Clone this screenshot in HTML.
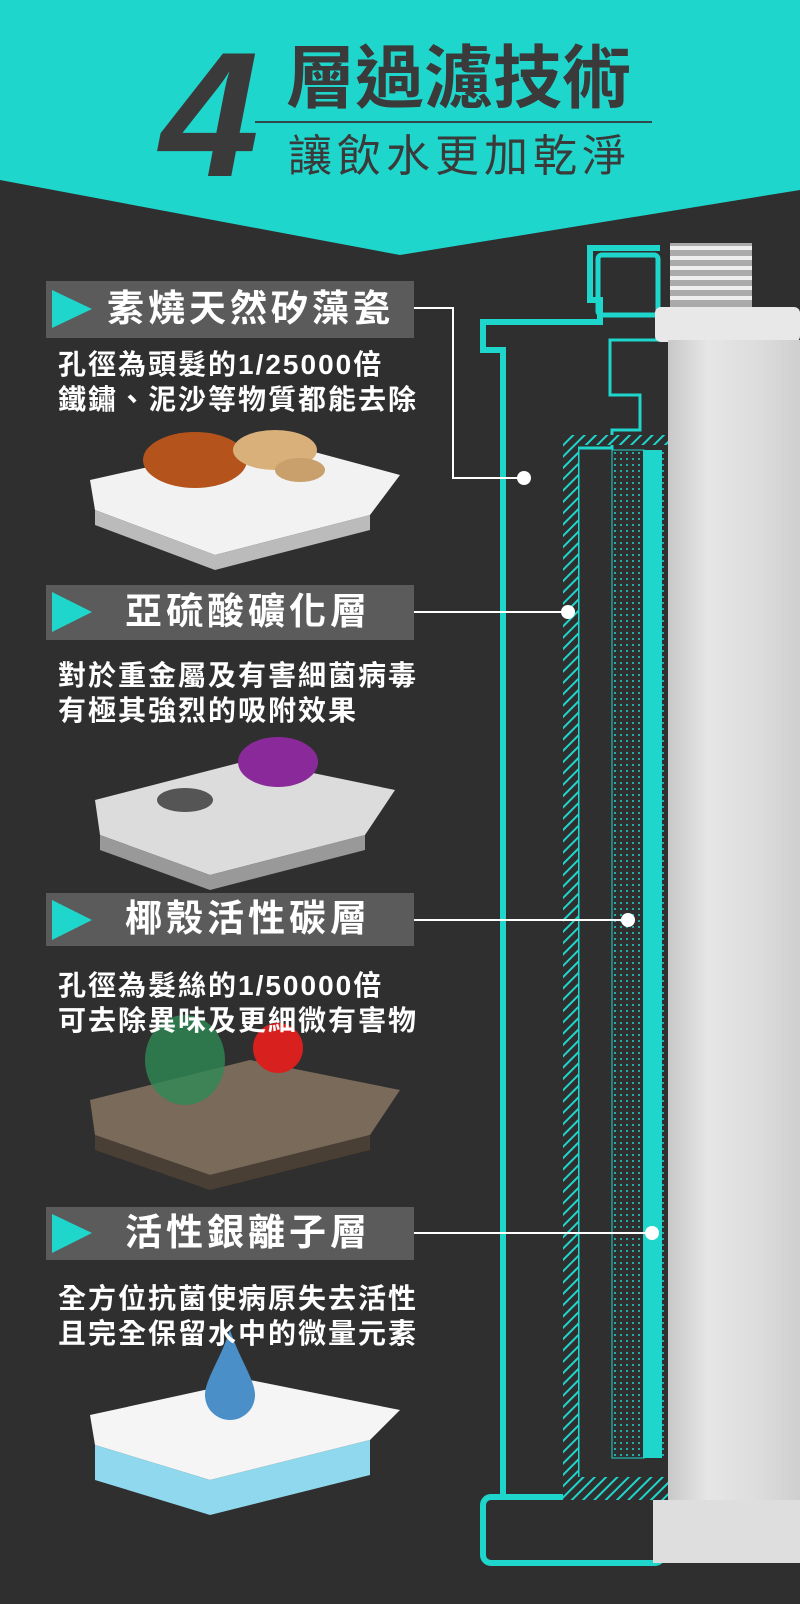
<!DOCTYPE html>
<html><head><meta charset="utf-8"><style>
html,body{margin:0;padding:0}
body{width:800px;height:1604px;position:relative;background:#2f2f2f;overflow:hidden;font-family:"Liberation Sans","Noto Sans CJK TC",sans-serif}
.t{position:absolute;white-space:nowrap}
.lab{position:absolute;left:107px;color:#fff;font-weight:bold;font-size:37px;letter-spacing:4px;line-height:42px}
.desc{position:absolute;left:58px;color:#fff;font-weight:bold;font-size:28px;line-height:35px;letter-spacing:2px}
</style></head><body>
<svg width="800" height="1604" style="position:absolute;left:0;top:0">
<defs>
<pattern id="hat" width="8" height="8" patternUnits="userSpaceOnUse" patternTransform="rotate(45)"><rect width="8" height="8" fill="#2f2f2f"/><rect width="2" height="8" fill="#1fd6cc"/></pattern>
<pattern id="dot" width="6" height="6" patternUnits="userSpaceOnUse"><rect width="6" height="6" fill="#2f2f2f"/><circle cx="3" cy="3" r="1" fill="#1fd6cc"/></pattern>
<linearGradient id="cyl" x1="0" x2="1"><stop offset="0" stop-color="#c8c8c8"/><stop offset="0.3" stop-color="#e6e6e6"/><stop offset="0.7" stop-color="#dcdcdc"/><stop offset="1" stop-color="#cfcfcf"/></linearGradient>
</defs>
<polygon points="0,0 800,0 800,190 400,255 0,180" fill="#1fd6cc"/>
<line x1="255" y1="122" x2="652" y2="122" stroke="#2f4a4a" stroke-width="2"/>
<g fill="none" stroke="#1fd6cc" stroke-width="6">
<rect x="483" y="1497" width="180" height="66" rx="8" fill="#2f2f2f"/>
<path d="M503 1497 V350 H483 V322 H600 V300 H590 V248 H660"/>
</g>
<path d="M578 1477 V448 H612 V430 H640 V395 H610 V340 H660" fill="none" stroke="#1fd6cc" stroke-width="3"/>
<rect x="563" y="435" width="15" height="1065" fill="url(#hat)"/>
<rect x="563" y="1477" width="105" height="23" fill="url(#hat)"/>
<rect x="563" y="435" width="105" height="10" fill="url(#hat)"/>
<rect x="612" y="450" width="32" height="1008" fill="url(#dot)" stroke="#1fd6cc" stroke-width="1"/>
<rect x="643" y="450" width="19" height="1008" fill="#1fd6cc"/>
<rect x="662" y="450" width="8" height="1008" fill="url(#dot)"/>
<rect x="598" y="255" width="60" height="60" fill="none" stroke="#1fd6cc" stroke-width="5" rx="4"/>
<rect x="605" y="265" width="48" height="10" fill="#2f2f2f"/>
<rect x="605" y="285" width="48" height="10" fill="#2f2f2f"/>
<g>
<rect x="670" y="243" width="82" height="70" fill="#aaa"/>
<rect x="670" y="246" width="82" height="4" fill="#eee"/><rect x="670" y="256" width="82" height="4" fill="#eee"/><rect x="670" y="266" width="82" height="4" fill="#eee"/><rect x="670" y="276" width="82" height="4" fill="#eee"/><rect x="670" y="286" width="82" height="4" fill="#eee"/><rect x="670" y="296" width="82" height="4" fill="#eee"/>
</g>
<rect x="655" y="307" width="145" height="35" rx="6" fill="#e8e8e8"/>
<rect x="668" y="340" width="132" height="1160" fill="url(#cyl)"/>
<rect x="653" y="1500" width="147" height="63" fill="#dedede"/>
<g stroke="#fff" stroke-width="2" fill="none">
<path d="M414 308 H453 V478 H524"/>
<path d="M414 612 H568"/>
<path d="M414 920 H628"/>
<path d="M414 1233 H652"/>
</g>
<g fill="#fff"><circle cx="524" cy="478" r="7"/><circle cx="568" cy="612" r="7"/><circle cx="628" cy="920" r="7"/><circle cx="652" cy="1233" r="7"/></g>
<g fill="#5b5b5b"><rect x="46" y="281" width="368" height="57"/><rect x="46" y="585" width="368" height="55"/><rect x="46" y="893" width="368" height="53"/><rect x="46" y="1207" width="368" height="53"/></g>
<g fill="#1fd6cc"><polygon points="52,290 92,309 52,328"/><polygon points="52,592 92,612 52,632"/><polygon points="52,900 92,920 52,940"/><polygon points="52,1214 92,1233 52,1253"/></g>
<polygon points="90,480 270,440 400,475 370,515 215,555 95,510" fill="#f2f2f2"/>
<polygon points="95,510 215,555 370,515 370,530 215,570 95,525" fill="#bbb"/>
<ellipse cx="195" cy="460" rx="52" ry="28" fill="#b5531c"/>
<ellipse cx="275" cy="450" rx="42" ry="20" fill="#d9b079"/>
<ellipse cx="300" cy="470" rx="25" ry="12" fill="#c9a06b"/>
<polygon points="95,800 250,760 395,790 365,835 210,875 100,835" fill="#dcdcdc"/>
<polygon points="100,835 210,875 365,835 365,850 210,890 100,850" fill="#999"/>
<ellipse cx="278" cy="762" rx="40" ry="25" fill="#8a2a9a"/>
<ellipse cx="185" cy="800" rx="28" ry="12" fill="#555"/>
<polygon points="90,1100 250,1060 400,1090 370,1135 210,1175 95,1135" fill="#7a6a5a"/>
<polygon points="95,1135 210,1175 370,1135 370,1150 210,1190 95,1150" fill="#4a3f35"/>
<ellipse cx="185" cy="1060" rx="40" ry="45" fill="#2e8a55" opacity="0.8"/>
<circle cx="278" cy="1048" r="25" fill="#d8201e"/>
<polygon points="90,1415 250,1380 400,1410 370,1440 210,1480 95,1445" fill="#f5f5f5"/>
<polygon points="95,1445 210,1480 370,1440 370,1475 210,1515 95,1480" fill="#8fd8ee"/>
<path d="M230 1330 C220 1360 205 1380 205 1395 A25 25 0 0 0 255 1395 C255 1380 240 1360 230 1330Z" fill="#4a8fc8"/>
</svg>
<div class="t" style="left:160px;top:22px;font-size:178px;font-weight:bold;font-style:italic;color:#3a3a3a;line-height:185px">4</div>
<div class="t" style="left:286px;top:42px;font-size:69px;font-weight:bold;color:#3a3a3a;line-height:74px">層過濾技術</div>
<div class="t" style="left:288px;top:132px;font-size:44px;color:#3a3a3a;line-height:50px;letter-spacing:5px">讓飲水更加乾淨</div>
<div class="lab t" style="top:288px">素燒天然矽藻瓷</div>
<div class="desc t" style="top:347px">孔徑為頭髮的1/25000倍<br>鐵鏽、泥沙等物質都能去除</div>
<div class="lab t" style="top:591px;left:125px">亞硫酸礦化層</div>
<div class="desc t" style="top:658px">對於重金屬及有害細菌病毒<br>有極其強烈的吸附效果</div>
<div class="lab t" style="top:898px;left:125px">椰殼活性碳層</div>
<div class="desc t" style="top:968px">孔徑為髮絲的1/50000倍<br>可去除異味及更細微有害物</div>
<div class="lab t" style="top:1212px;left:125px">活性銀離子層</div>
<div class="desc t" style="top:1281px">全方位抗菌使病原失去活性<br>且完全保留水中的微量元素</div>
</body></html>
